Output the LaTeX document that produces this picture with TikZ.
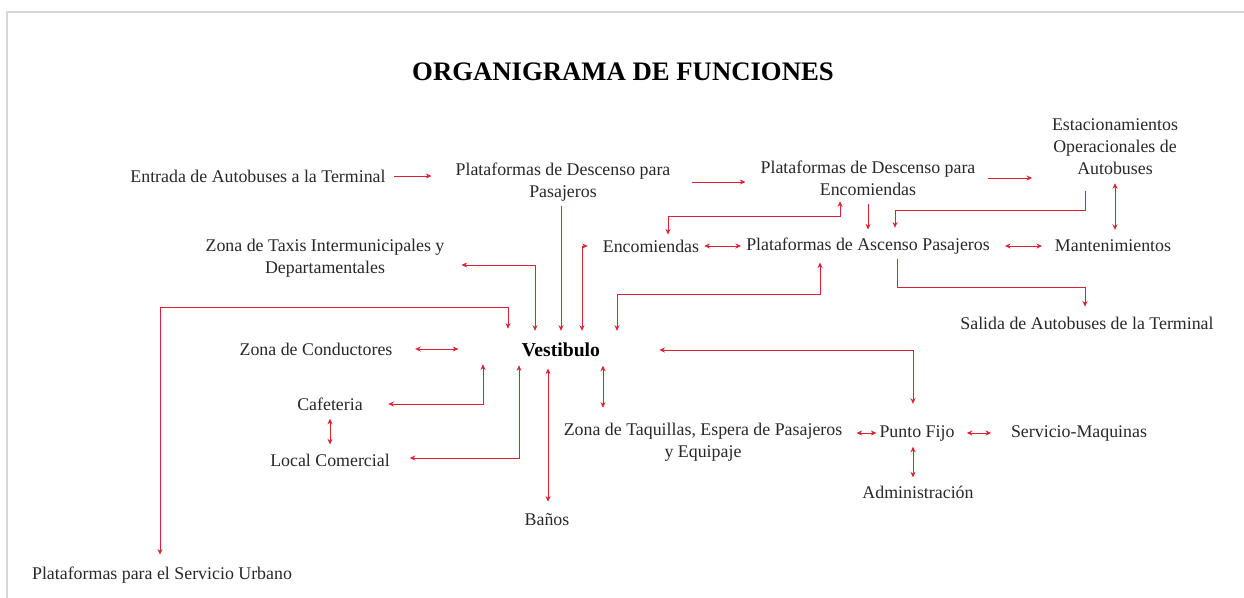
\documentclass[tikz,border=0pt]{standalone}
\usepackage{fontspec}
\setmainfont{Liberation Serif}
\usepackage{tikz}
\usetikzlibrary{arrows.meta,calc}
\definecolor{linkRed}{RGB}{222,32,52}
\definecolor{textGray}{RGB}{40,40,40}
\definecolor{frameGray}{RGB}{215,215,215}
\tikzset{
  orgTxt/.style={rectangle,inner sep=0pt,align=center,text=textGray,
                 font=\fontsize{12.7}{15.6}\selectfont},
  orgTitle/.style={inner sep=0pt,text=black,font=\fontsize{19}{22}\selectfont\bfseries},
  orgHub/.style={inner sep=0pt,text=black,font=\fontsize{14}{16}\selectfont\bfseries},
  orgArrow/.style={-{Stealth[length=4pt,width=3.6pt]},draw=linkRed,line width=0.55pt},
  orgLink/.style={{Stealth[length=4pt,width=3.6pt]}-{Stealth[length=4pt,width=3.6pt]},
                  draw=linkRed,line width=0.55pt},
}
\begin{document}
\begin{tikzpicture}[x=0.025cm,y=-0.025cm]
  \useasboundingbox (0,0) rectangle (1244,598);
  \draw[frameGray,line width=0.8pt] (7,598) -- (7,12) -- (1244,12);
  \node[orgTitle](title) at (623,72) {ORGANIGRAMA DE FUNCIONES};
  % upper row
  \node[orgTxt](ent) at (258,176) {Entrada de Autobuses a la Terminal};
  \node[orgTxt](pdp) at (563,182) {Plataformas de Descenso para\\Pasajeros};
  \node[orgTxt](pde) at (868,178) {Plataformas de Descenso para\\Encomiendas};
  \node[orgTxt](est) at (1115,147) {Estacionamientos\\Operacionales de\\Autobuses};
  \node[orgTxt](enc) at (651,246) {Encomiendas};
  \node[orgTxt](pap) at (868,246) {Plataformas de Ascenso Pasajeros};
  \node[orgTxt](man) at (1113,246) {Mantenimientos};
  \node[orgTxt](sal) at (1087,323) {Salida de Autobuses de la Terminal};
  \node[orgTxt](tax) at (325,258) {Zona de Taxis Intermunicipales y\\Departamentales};
  % hub and lower part
  \node[orgHub](vest) at (561,350) {Vestibulo};
  \node[orgTxt](cond) at (316,349) {Zona de Conductores};
  \node[orgTxt](caf) at (330,404) {Cafeteria};
  \node[orgTxt](loc) at (330,460) {Local Comercial};
  \node[orgTxt](ban) at (547,520) {Baños};
  \node[orgTxt](taq) at (703,442) {Zona de Taquillas, Espera de Pasajeros\\y Equipaje};
  \node[orgTxt](pf) at (917,433) {Punto Fijo};
  \node[orgTxt](sm) at (1079,433) {Servicio-Maquinas};
  \node[orgTxt](adm) at (918,492) {Administración};
  \node[orgTxt](psu) at (162,575) {Plataformas para el Servicio Urbano};
  % straight connectors
  \foreach \na/\nb/\ss/\se in {ent/pdp/5.7pt/17pt, pdp/pde/15pt/10.6pt, pde/est/9pt/14pt}{
    \draw[orgArrow,shorten <=\ss,shorten >=\se](\na.east)--(\na.east -| \nb.west);
  }
  \foreach \na/\nb/\ss/\se in {enc/pap/3.5pt/3.5pt, pap/man/10.6pt/9pt,
                              cond/vest/16pt/45pt, pf/sm/8.5pt/14pt}{
    \draw[orgLink,shorten <=\ss,shorten >=\se](\na.east)--(\na.east -| \nb.west);
  }
  \draw[orgLink,shorten <=10pt,shorten >=2pt](pf.west -| taq.east)--(pf.west);
  \draw[orgArrow,shorten <=5.7pt,shorten >=5.7pt](pde.south)--(pap.north);
  \draw[orgLink,shorten <=5.7pt,shorten >=7pt](est.south)--(est.south |- man.north);
  \draw[orgLink,shorten <=5.7pt,shorten >=6.4pt](caf.south)--(loc.north);
  \draw[orgLink,shorten <=4pt,shorten >=5.7pt](pf.south -| 913,0)--(adm.north -| 913,0);
  % elbow connectors
  \draw[orgLink,shorten <=4pt,shorten >=3.5pt](pde.south -| 840,0) |- (668,216) -- (enc.north -| 668,0);
  \draw[orgArrow,shorten <=11pt,shorten >=7pt](est.south -| 1085,0) |- (895,210) -- (pap.north -| 895,0);
  \draw[orgArrow,shorten <=3pt,shorten >=7pt](pap.south -| 897,0) |- (1085,287) -- (sal.north -| 1085,0);
  \draw[orgLink,shorten <=5.7pt,shorten >=8.5pt](pap.south -| 820,0) |- (617,294) -- (vest.north -| 617,0);
  \draw[orgLink,shorten <=10.6pt,shorten >=8.5pt](enc.west) -| (vest.north -| 582,0);
  \draw[orgArrow,shorten <=3pt,shorten >=8.5pt](pdp.south -| 561,0)--(vest.north -| 561,0);
  \draw[orgLink,shorten <=12pt,shorten >=8.5pt](tax.east |- 0,265) -| (vest.north -| 535,0);
  \draw[orgLink,shorten <=8.5pt,shorten >=10pt](psu.north -| 160,0) |- (508,307) -- (vest.north -| 508,0);
  \draw[orgLink,shorten <=18pt,shorten >=5pt](caf.east) -| (vest.south -| 483,0);
  \draw[orgLink,shorten <=14pt,shorten >=5.7pt](loc.east |- 0,458) -| (vest.south -| 519,0);
  \draw[orgLink,shorten <=8pt,shorten >=8.5pt](vest.south -| 548,0)--(ban.north -| 548,0);
  \draw[orgLink,shorten <=6pt,shorten >=10.6pt](vest.south -| 603,0)--(taq.north -| 603,0);
  \draw[orgLink,shorten <=42pt,shorten >=15pt](vest.east) -| (pf.north -| 913,0);
\end{tikzpicture}
\end{document}
